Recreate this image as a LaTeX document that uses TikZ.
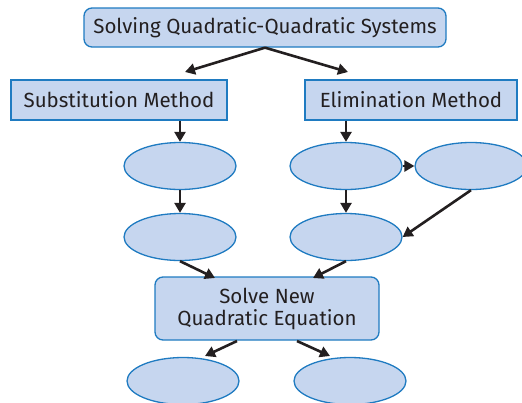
\documentclass[tikz,border=0pt]{standalone}
\usepackage{fontspec}
\setmainfont{Fira Sans}
\usetikzlibrary{arrows.meta, shapes.geometric}
\definecolor{boxfill}{HTML}{C6D6EF}
\definecolor{boxline}{HTML}{1F7BC1}
\definecolor{arrcol}{HTML}{231F20}

\begin{document}
\begin{tikzpicture}[x=1pt, y=-1pt,
    box/.style={draw=boxline, fill=boxfill, line width=1.3pt, align=center, text=arrcol, font=\fontsize{20.5}{22}\selectfont, inner sep=0pt},
    oval/.style={draw=boxline, fill=boxfill, line width=1.3pt, ellipse, minimum width=112pt, minimum height=47pt, inner sep=0pt},
    arr/.style={-{Triangle[length=10pt, width=11pt]}, line width=2.6pt, color=arrcol},
]
  \useasboundingbox (0, 0) rectangle (522, 402);

  % === Top ===
  \node[box, rounded corners=8pt, minimum width=362pt, minimum height=39pt] (title) at (265, 27.5) {Solving Quadratic-Quadratic Systems};

  % === Methods ===
  \node[box, minimum width=216pt, minimum height=40pt] (subst) at (119, 100) {Substitution Method};
  \node[box, minimum width=212pt, minimum height=40pt] (elim) at (411, 100) {Elimination Method};

  % === Ovals ===
  \node[oval] (s1) at (180, 166) {};
  \node[oval] (s2) at (180, 237) {};
  \node[oval] (e1) at (346, 166) {};
  \node[oval] (e2) at (346, 237) {};
  \node[oval] (e3) at (471, 166) {};

  % === Solve ===
  \node[box, rounded corners=8pt, minimum width=224pt, minimum height=63pt] (solve) at (267, 308.5) {Solve New\\Quadratic Equation};
  \node[oval] (a1) at (183, 381) {};
  \node[oval] (a2) at (350, 381) {};

  % === Arrows ===
  \coordinate (subin) at (185, 72);
  \coordinate (elimin) at (348, 72);
  \coordinate (solvel) at (215, 278);
  \coordinate (solver) at (313, 278);
  \coordinate (outl) at (237, 341);
  \coordinate (outr) at (297, 341);
  \coordinate (a1in) at (205, 356);
  \coordinate (a2in) at (330, 356);
  \draw[arr] (title.south) -- (subin);
  \draw[arr] (title.south) -- (elimin);
  \draw[arr] (subst.south -| s1.north) -- (s1.north);
  \draw[arr] (elim.south -| e1.north) -- (e1.north);
  \draw[arr] (s1.south) -- (s2.north);
  \draw[arr] (e1.south) -- (e2.north);
  \draw[arr] (e1.east) -- (e3.west);
  \draw[arr] (e3.south) -- (e2.east);
  \draw[arr] (s2.south) -- (solvel);
  \draw[arr] (e2.south) -- (solver);
  \draw[arr] (outl) -- (a1in);
  \draw[arr] (outr) -- (a2in);
\end{tikzpicture}
\end{document}
